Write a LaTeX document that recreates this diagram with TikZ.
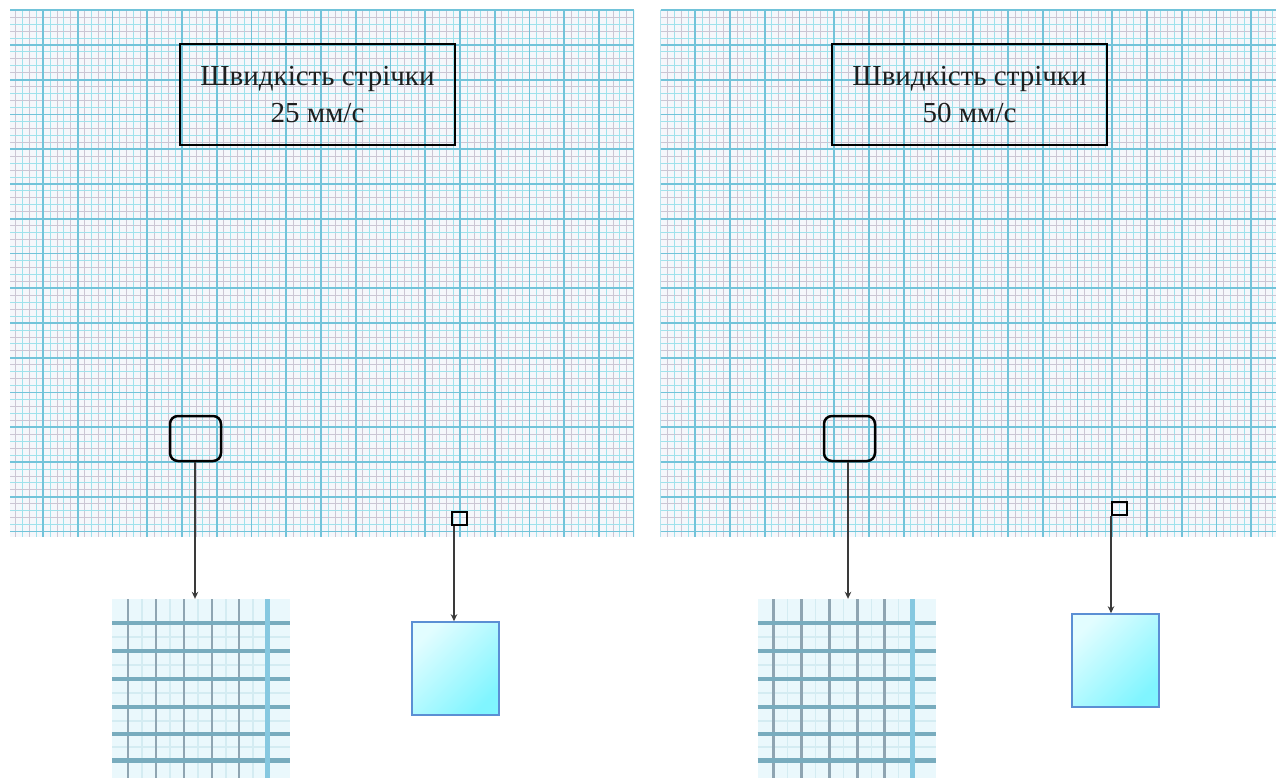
\documentclass[tikz,border=0pt]{standalone}
\usepackage{fontspec}
\setmainfont{Liberation Serif}
\usetikzlibrary{arrows.meta,calc}
\definecolor{gridbg}{HTML}{F5F7FB}
\definecolor{minorcyan}{HTML}{9FE2EC}
\definecolor{minorgray}{HTML}{CBC6D4}
\definecolor{majorblue}{HTML}{72C3D9}
\definecolor{txtcol}{HTML}{1E1E1E}
\definecolor{boxedge}{HTML}{5B8FD4}
\definecolor{arrowcol}{HTML}{3A3A3A}
\definecolor{magbg}{HTML}{EAF8FC}
\definecolor{magvert}{HTML}{8FA5B2}
\definecolor{maghor}{HTML}{78ACBE}
\definecolor{magthick}{HTML}{86C8E0}
\definecolor{magfaint}{HTML}{D4ECF2}
\definecolor{bluelight}{HTML}{E2FDFF}
\definecolor{bluedeep}{HTML}{80F5FF}
\tikzset{
  titlebox/.style={draw=black, line width=2pt, minimum width=275pt, minimum height=101pt, inner sep=0pt,
    align=center, text=txtcol, font=\fontsize{29}{37}\selectfont},
  roundbox/.style={draw=black, line width=2.5pt, rounded corners=8pt, minimum width=51pt, minimum height=45pt, inner sep=0pt},
  smallsq/.style={draw=black, line width=2pt, minimum width=15pt, minimum height=13pt, inner sep=0pt},
  bluebox/.style={draw=boxedge, line width=1.6pt, minimum width=87pt, minimum height=93pt, inner sep=0pt,
    top color=bluelight, bottom color=bluedeep, shading angle=45},
  magimg/.style={minimum width=178pt, minimum height=179pt, inner sep=0pt, fill=magbg},
  pointer/.style={draw=arrowcol, line width=2pt, -{Stealth[length=7pt,width=6.5pt]}},
}
\newcommand{\graphpanel}[5]{% x0, x1, xstart, nminor, nmajor
  \begin{scope}
    \clip (#1,10) rectangle (#2,537);
    \fill[gridbg] (#1,10) rectangle (#2,537);
    \foreach \j in {0,...,#4}{%
      \pgfmathsetmacro\xx{#3+\j*6.95}%
      \ifodd\j\relax
        \draw[minorgray, line width=0.8pt] (\xx,10) -- (\xx,537);
      \else
        \draw[minorcyan, line width=0.9pt] (\xx,10) -- (\xx,537);
      \fi}
    \foreach \j in {0,...,76}{%
      \pgfmathsetmacro\yy{10.25+\j*6.95}%
      \ifodd\j\relax
        \draw[minorgray, line width=0.8pt] (#1,\yy) -- (#2,\yy);
      \else
        \draw[minorcyan, line width=0.9pt] (#1,\yy) -- (#2,\yy);
      \fi}
    \foreach \k in {0,...,#5}{%
      \pgfmathsetmacro\xx{#3+\k*34.75}%
      \draw[majorblue, line width=1.6pt] (\xx,10) -- (\xx,537);}
    \foreach \k in {0,...,15}{%
      \pgfmathsetmacro\yy{10.25+\k*34.75}%
      \draw[majorblue, line width=1.6pt] (#1,\yy) -- (#2,\yy);}
  \end{scope}}
\newcommand{\magnified}[2]{% x0,y0 of magnified grid image
  \begin{scope}[shift={(#1,#2)}]
    \foreach \v in {30,58,86,114,141}{\draw[magfaint, line width=1.5pt] (\v,0) -- (\v,179);}
    \foreach \v in {38,66,94,122,148}{\draw[magfaint, line width=1.5pt] (0,\v) -- (178,\v);}
    \foreach \v in {16,44,72,100,127}{\draw[magvert, line width=2.8pt] (\v,0) -- (\v,179);}
    \foreach \v in {24,52,80,108,135}{\draw[maghor, line width=3.2pt] (0,\v) -- (178,\v);}
    \draw[maghor, line width=5pt] (0,161) -- (178,161);
    \draw[magthick, line width=5pt] (155,0) -- (155,179);
  \end{scope}}
\begin{document}
\begin{tikzpicture}[x=1pt,y=-1pt]
\useasboundingbox (0,0) rectangle (1276,778);
\fill[white] (0,0) rectangle (1276,778);

% graph paper panels
\graphpanel{10}{634}{8.25}{90}{18}
\graphpanel{660.5}{1276}{660.5}{89}{18}

% left panel
\node[titlebox] (titleL) at (317.5,95) {Швидкість стрічки\\25 мм/с};
\node[roundbox] (rbL) at (195.5,438.5) {};
\node[smallsq] (sqL) at (459.5,518.5) {};
\node[magimg] (imgL) at (201,688.5) {};
\magnified{112}{599}
\node[bluebox] (blueL) at (455.5,668.5) {};
\draw[pointer] ([xshift=-0.5pt]rbL.south) -- ([xshift=-0.5pt]rbL.south |- imgL.north);
\draw[pointer] ([xshift=-1.5pt]sqL.south -| blueL.north) -- ([xshift=-1.5pt]blueL.north);

% right panel
\node[titlebox] (titleR) at (969.5,95) {Швидкість стрічки\\50 мм/с};
\node[roundbox] (rbR) at (849.5,438.5) {};
\node[smallsq] (sqR) at (1119.5,508.5) {};
\node[magimg] (imgR) at (846.5,688.5) {};
\magnified{757.5}{599}
\node[bluebox] (blueR) at (1115.5,660.5) {};
\draw[pointer] ([xshift=-1.5pt]rbR.south) -- ([xshift=-1.5pt]rbR.south |- imgR.north);
\draw[pointer] ([xshift=-4.5pt]sqR.south -| blueR.north) -- ([xshift=-4.5pt]blueR.north);
\end{tikzpicture}
\end{document}
